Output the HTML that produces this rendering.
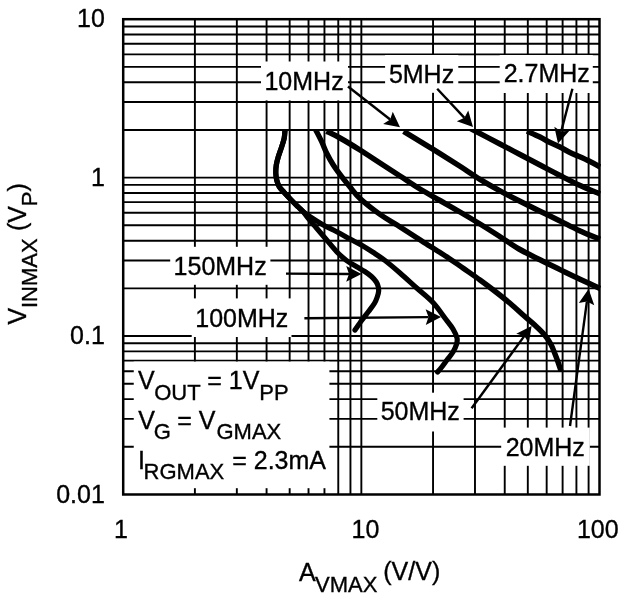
<!DOCTYPE html>
<html><head><meta charset="utf-8"><title>VINMAX vs AVMAX</title>
<style>html,body{margin:0;padding:0;background:#fff}svg{display:block}</style>
</head><body>
<svg width="619" height="600" viewBox="0 0 619 600">
<rect x="0" y="0" width="619" height="600" fill="#fff"/>
<path d="M194.89 19.20V494.49M236.83 19.20V494.49M266.58 19.20V494.49M289.66 19.20V494.49M308.52 19.20V494.49M324.46 19.20V494.49M338.27 19.20V494.49M350.45 19.20V494.49M361.35 19.20V494.49M433.04 19.20V494.49M474.98 19.20V494.49M504.73 19.20V494.49M527.81 19.20V494.49M546.67 19.20V494.49M562.61 19.20V494.49M576.42 19.20V494.49M588.60 19.20V494.49M123.20 446.80H599.50M123.20 418.90H599.50M123.20 399.11H599.50M123.20 383.75H599.50M123.20 371.21H599.50M123.20 360.60H599.50M123.20 351.41H599.50M123.20 343.31H599.50M123.20 336.06H599.50M123.20 288.37H599.50M123.20 260.47H599.50M123.20 240.68H599.50M123.20 225.32H599.50M123.20 212.78H599.50M123.20 202.17H599.50M123.20 192.98H599.50M123.20 184.88H599.50M123.20 177.63H599.50M123.20 129.94H599.50M123.20 102.04H599.50M123.20 82.25H599.50M123.20 66.89H599.50M123.20 54.35H599.50M123.20 43.74H599.50M123.20 34.55H599.50M123.20 26.45H599.50" stroke="#000" stroke-width="1.9" fill="none"/>
<rect x="261" y="61.5" width="87.00" height="38.90" fill="#fff"/>
<rect x="385.1" y="55.0" width="73.20" height="37.80" fill="#fff"/>
<rect x="499.7" y="55.0" width="93.10" height="38.00" fill="#fff"/>
<rect x="170.2" y="246.8" width="100.20" height="38.00" fill="#fff"/>
<rect x="191.7" y="298.4" width="99.80" height="38.60" fill="#fff"/>
<rect x="377.3" y="392.7" width="86.30" height="38.80" fill="#fff"/>
<rect x="501.2" y="427.6" width="88.60" height="38.20" fill="#fff"/>
<rect x="133.75" y="361.6" width="195.65" height="126.60" fill="#fff"/>
<rect x="123.20" y="19.20" width="476.30" height="475.29" fill="none" stroke="#000" stroke-width="2.5"/>
<clipPath id="cc"><rect x="123.20" y="129.09" width="477.90" height="400"/></clipPath>
<path d="M285.24 127.51C285.20 127.92 285.17 128.20 285.00 130.00C284.83 131.80 284.75 135.52 284.20 138.30C283.65 141.08 282.68 143.63 281.70 146.70C280.72 149.77 279.20 153.65 278.30 156.70C277.40 159.75 276.72 162.23 276.30 165.00C275.88 167.77 275.73 170.80 275.80 173.30C275.87 175.80 276.13 177.77 276.70 180.00C277.27 182.23 277.95 184.62 279.20 186.70C280.45 188.78 282.12 190.20 284.20 192.50C286.28 194.80 289.35 198.08 291.70 200.50C294.05 202.92 296.37 205.13 298.30 207.00C300.23 208.87 301.63 209.82 303.30 211.70C304.97 213.58 306.07 215.53 308.30 218.30C310.53 221.07 313.63 224.68 316.70 228.30C319.77 231.92 323.37 236.10 326.70 240.00C330.03 243.90 333.40 248.28 336.70 251.70C340.00 255.12 343.17 258.00 346.50 260.50C349.83 263.00 353.65 264.87 356.70 266.70C359.75 268.53 362.33 269.87 364.80 271.50C367.27 273.13 369.58 274.75 371.50 276.50C373.42 278.25 375.17 280.25 376.30 282.00C377.43 283.75 377.92 285.42 378.30 287.00C378.68 288.58 378.75 289.92 378.60 291.50C378.45 293.08 378.08 294.53 377.40 296.50C376.72 298.47 375.98 300.80 374.50 303.30C373.02 305.80 370.58 308.72 368.50 311.50C366.42 314.28 364.25 316.92 362.00 320.00C359.75 323.08 356.17 328.33 355.00 330.00" stroke="#000" stroke-width="5.2" fill="none" stroke-linecap="round" stroke-linejoin="round" clip-path="url(#cc)"/>
<path d="M285.24 127.51C285.20 127.92 285.17 128.20 285.00 130.00C284.83 131.80 284.75 135.52 284.20 138.30C283.65 141.08 282.68 143.63 281.70 146.70C280.72 149.77 279.20 153.65 278.30 156.70C277.40 159.75 276.72 162.23 276.30 165.00C275.88 167.77 275.73 170.80 275.80 173.30C275.87 175.80 276.13 177.77 276.70 180.00C277.27 182.23 277.95 184.62 279.20 186.70C280.45 188.78 282.12 190.20 284.20 192.50C286.28 194.80 289.35 198.08 291.70 200.50C294.05 202.92 296.37 205.13 298.30 207.00C300.23 208.87 301.35 210.08 303.30 211.70C305.25 213.32 306.67 214.48 310.00 216.70C313.33 218.92 318.85 222.50 323.30 225.00C327.75 227.50 332.25 229.37 336.70 231.70C341.15 234.03 345.90 236.78 350.00 239.00C354.10 241.22 357.47 242.78 361.30 245.00C365.13 247.22 369.05 249.72 373.00 252.30C376.95 254.88 380.50 257.05 385.00 260.50C389.50 263.95 394.67 268.37 400.00 273.00C405.33 277.63 411.50 283.38 417.00 288.30C422.50 293.22 428.17 297.30 433.00 302.50C437.83 307.70 442.67 315.08 446.00 319.50C449.33 323.92 451.17 325.92 453.00 329.00C454.83 332.08 456.40 335.50 457.00 338.00C457.60 340.50 457.27 341.67 456.60 344.00C455.93 346.33 454.60 349.33 453.00 352.00C451.40 354.67 449.00 357.33 447.00 360.00C445.00 362.67 442.57 366.00 441.00 368.00C439.43 370.00 438.17 371.33 437.60 372.00" stroke="#000" stroke-width="5.2" fill="none" stroke-linecap="round" stroke-linejoin="round" clip-path="url(#cc)"/>
<path d="M314.03 126.49C314.33 127.08 314.52 127.47 315.80 130.00C317.08 132.53 319.88 137.82 321.70 141.70C323.52 145.58 324.77 149.42 326.70 153.30C328.63 157.18 330.80 161.10 333.30 165.00C335.80 168.90 338.92 173.03 341.70 176.70C344.48 180.37 346.95 183.37 350.00 187.00C353.05 190.63 355.00 193.93 360.00 198.50C365.00 203.07 373.88 210.02 380.00 214.40C386.12 218.78 391.15 221.30 396.70 224.80C402.25 228.30 407.75 231.82 413.30 235.40C418.85 238.98 424.43 242.75 430.00 246.30C435.57 249.85 441.15 253.03 446.70 256.70C452.25 260.37 457.75 264.42 463.30 268.30C468.85 272.18 474.88 276.30 480.00 280.00C485.12 283.70 489.00 286.62 494.00 290.50C499.00 294.38 505.00 299.08 510.00 303.30C515.00 307.52 519.83 312.15 524.00 315.80C528.17 319.45 531.62 322.08 535.00 325.20C538.38 328.32 541.63 331.28 544.30 334.50C546.97 337.72 549.22 341.25 551.00 344.50C552.78 347.75 553.83 351.08 555.00 354.00C556.17 356.92 557.00 359.17 558.00 362.00C559.00 364.83 560.50 369.50 561.00 371.00" stroke="#000" stroke-width="5.4" fill="none" stroke-linecap="butt" stroke-linejoin="round" clip-path="url(#cc)"/>
<path d="M326.50 131.20C328.75 132.33 334.42 134.87 340.00 138.00C345.58 141.13 353.33 145.83 360.00 150.00C366.67 154.17 373.33 158.67 380.00 163.00C386.67 167.33 393.33 171.67 400.00 176.00C406.67 180.33 413.33 184.92 420.00 189.00C426.67 193.08 433.33 196.67 440.00 200.50C446.67 204.33 453.33 208.08 460.00 212.00C466.67 215.92 473.50 220.00 480.00 224.00C486.50 228.00 492.50 231.83 499.00 236.00C505.50 240.17 512.17 245.03 519.00 249.00C525.83 252.97 533.17 256.37 540.00 259.80C546.83 263.23 555.00 267.13 560.00 269.60C565.00 272.07 566.67 273.00 570.00 274.60C573.33 276.20 575.00 276.87 580.00 279.20C585.00 281.53 596.67 287.03 600.00 288.60" stroke="#000" stroke-width="5.5" fill="none" stroke-linecap="butt" stroke-linejoin="round" clip-path="url(#cc)"/>
<path d="M403.60 131.40C406.33 133.05 413.93 137.60 420.00 141.30C426.07 145.00 433.33 149.43 440.00 153.60C446.67 157.77 453.33 162.02 460.00 166.30C466.67 170.58 473.33 175.22 480.00 179.30C486.67 183.38 493.50 187.22 500.00 190.80C506.50 194.38 512.50 197.47 519.00 200.80C525.50 204.13 532.33 207.53 539.00 210.80C545.67 214.07 552.33 217.13 559.00 220.40C565.67 223.67 572.17 227.27 579.00 230.40C585.83 233.53 596.50 237.73 600.00 239.20" stroke="#000" stroke-width="5.5" fill="none" stroke-linecap="butt" stroke-linejoin="round" clip-path="url(#cc)"/>
<path d="M465.42 125.80C466.75 126.50 467.64 126.97 473.40 130.00C479.16 133.03 492.23 139.92 500.00 144.00C507.77 148.08 513.33 151.00 520.00 154.50C526.67 158.00 533.33 161.50 540.00 165.00C546.67 168.50 553.50 172.17 560.00 175.50C566.50 178.83 572.33 181.92 579.00 185.00C585.67 188.08 596.50 192.50 600.00 194.00" stroke="#000" stroke-width="5.5" fill="none" stroke-linecap="butt" stroke-linejoin="round" clip-path="url(#cc)"/>
<path d="M527.00 131.00C529.17 132.00 536.33 135.17 540.00 137.00C543.67 138.83 545.67 140.33 549.00 142.00C552.33 143.67 556.67 145.33 560.00 147.00C563.33 148.67 564.17 149.67 569.00 152.00C573.83 154.33 583.83 158.50 589.00 161.00C594.17 163.50 598.17 166.00 600.00 167.00" stroke="#000" stroke-width="5.5" fill="none" stroke-linecap="butt" stroke-linejoin="round" clip-path="url(#cc)"/>
<path d="M348.00 86.50L390.16 119.50" stroke="#000" stroke-width="2.4" fill="none"/><path d="M400.00 127.20L383.14 123.91L390.16 119.50L392.76 111.63Z" fill="#000"/>
<path d="M437.20 88.70L464.46 117.87" stroke="#000" stroke-width="2.4" fill="none"/><path d="M473.00 127.00L456.85 121.15L464.46 117.87L468.25 110.50Z" fill="#000"/>
<path d="M572.40 88.80L561.18 131.51" stroke="#000" stroke-width="2.4" fill="none"/><path d="M558.00 143.60L554.34 126.82L561.18 131.51L569.43 130.78Z" fill="#000"/>
<path d="M286.00 273.60L349.00 273.93" stroke="#000" stroke-width="2.4" fill="none"/><path d="M361.50 274.00L346.16 281.72L349.00 273.93L346.24 266.12Z" fill="#000"/>
<path d="M304.40 318.20L428.50 317.11" stroke="#000" stroke-width="2.4" fill="none"/><path d="M441.00 317.00L425.77 324.93L428.50 317.11L425.63 309.33Z" fill="#000"/>
<path d="M471.60 408.30L524.24 336.10" stroke="#000" stroke-width="2.4" fill="none"/><path d="M531.60 326.00L528.89 342.96L524.24 336.10L516.28 333.77Z" fill="#000"/>
<path d="M570.00 426.00L586.92 301.39" stroke="#000" stroke-width="2.4" fill="none"/><path d="M588.60 289.00L594.27 305.21L586.92 301.39L578.81 303.11Z" fill="#000"/>
<text x="264.47" y="89.5" font-family="Liberation Sans, Arial, Helvetica, sans-serif" font-size="25" text-anchor="start" fill="#000" stroke="#000" stroke-width="0.35" >10MHz</text>
<text x="388.9" y="82.9" font-family="Liberation Sans, Arial, Helvetica, sans-serif" font-size="25" text-anchor="start" fill="#000" stroke="#000" stroke-width="0.35" >5MHz</text>
<text x="503.7" y="82.0" font-family="Liberation Sans, Arial, Helvetica, sans-serif" font-size="25" text-anchor="start" fill="#000" stroke="#000" stroke-width="0.35" >2.7MHz</text>
<text x="173.58" y="275.1" font-family="Liberation Sans, Arial, Helvetica, sans-serif" font-size="25" text-anchor="start" fill="#000" stroke="#000" stroke-width="0.35" >150MHz</text>
<text x="195.28" y="327.1" font-family="Liberation Sans, Arial, Helvetica, sans-serif" font-size="25" text-anchor="start" fill="#000" stroke="#000" stroke-width="0.35" >100MHz</text>
<text x="380.7" y="420.4" font-family="Liberation Sans, Arial, Helvetica, sans-serif" font-size="25" text-anchor="start" fill="#000" stroke="#000" stroke-width="0.35" >50MHz</text>
<text x="505.7" y="455.7" font-family="Liberation Sans, Arial, Helvetica, sans-serif" font-size="25" text-anchor="start" fill="#000" stroke="#000" stroke-width="0.35" >20MHz</text>
<text x="104.8" y="27.1" font-family="Liberation Sans, Arial, Helvetica, sans-serif" font-size="25" text-anchor="end" fill="#000" stroke="#000" stroke-width="0.35" >10</text>
<text x="104.8" y="185.75" font-family="Liberation Sans, Arial, Helvetica, sans-serif" font-size="25" text-anchor="end" fill="#000" stroke="#000" stroke-width="0.35" >1</text>
<text x="104.8" y="344.3" font-family="Liberation Sans, Arial, Helvetica, sans-serif" font-size="25" text-anchor="end" fill="#000" stroke="#000" stroke-width="0.35" >0.1</text>
<text x="104.8" y="503.1" font-family="Liberation Sans, Arial, Helvetica, sans-serif" font-size="25" text-anchor="end" fill="#000" stroke="#000" stroke-width="0.35" >0.01</text>
<text x="114.075" y="538" font-family="Liberation Sans, Arial, Helvetica, sans-serif" font-size="25" text-anchor="start" fill="#000" stroke="#000" stroke-width="0.35" >1</text>
<text x="351.575" y="538.2" font-family="Liberation Sans, Arial, Helvetica, sans-serif" font-size="25" text-anchor="start" fill="#000" stroke="#000" stroke-width="0.35" >10</text>
<text x="576.975" y="538" font-family="Liberation Sans, Arial, Helvetica, sans-serif" font-size="25" text-anchor="start" fill="#000" stroke="#000" stroke-width="0.35" >100</text>
<text x="138.1" y="389.3" font-family="Liberation Sans, Arial, Helvetica, sans-serif" font-size="25" text-anchor="start" fill="#000" stroke="#000" stroke-width="0.35" >V</text>
<text x="154.2" y="400.2" font-family="Liberation Sans, Arial, Helvetica, sans-serif" font-size="22" text-anchor="start" fill="#000" stroke="#000" stroke-width="0.35" >OUT</text>
<text x="207.3" y="389.3" font-family="Liberation Sans, Arial, Helvetica, sans-serif" font-size="25" text-anchor="start" fill="#000" stroke="#000" stroke-width="0.35" >= 1V</text>
<text x="259.3" y="400.2" font-family="Liberation Sans, Arial, Helvetica, sans-serif" font-size="22" text-anchor="start" fill="#000" stroke="#000" stroke-width="0.35" >PP</text>
<text x="138.3" y="428.8" font-family="Liberation Sans, Arial, Helvetica, sans-serif" font-size="25" text-anchor="start" fill="#000" stroke="#000" stroke-width="0.35" >V</text>
<text x="153.8" y="438.5" font-family="Liberation Sans, Arial, Helvetica, sans-serif" font-size="22" text-anchor="start" fill="#000" stroke="#000" stroke-width="0.35" >G</text>
<text x="177.2" y="428.8" font-family="Liberation Sans, Arial, Helvetica, sans-serif" font-size="25" text-anchor="start" fill="#000" stroke="#000" stroke-width="0.35" >= V</text>
<text x="216.5" y="438.5" font-family="Liberation Sans, Arial, Helvetica, sans-serif" font-size="22" text-anchor="start" fill="#000" stroke="#000" stroke-width="0.35" >GMAX</text>
<text x="138.0" y="468.9" font-family="Liberation Sans, Arial, Helvetica, sans-serif" font-size="25" text-anchor="start" fill="#000" stroke="#000" stroke-width="0.35" >I</text>
<text x="143.6" y="478.7" font-family="Liberation Sans, Arial, Helvetica, sans-serif" font-size="22" text-anchor="start" fill="#000" stroke="#000" stroke-width="0.35" >RGMAX</text>
<text x="232.2" y="468.9" font-family="Liberation Sans, Arial, Helvetica, sans-serif" font-size="25" text-anchor="start" fill="#000" stroke="#000" stroke-width="0.35" >= 2.3mA</text>
<text x="299" y="581.1" font-family="Liberation Sans, Arial, Helvetica, sans-serif" font-size="25" text-anchor="start" fill="#000" stroke="#000" stroke-width="0.35" >A</text>
<text x="315" y="592" font-family="Liberation Sans, Arial, Helvetica, sans-serif" font-size="22" text-anchor="start" fill="#000" stroke="#000" stroke-width="0.35" >VMAX</text>
<text x="383.3" y="580" font-family="Liberation Sans, Arial, Helvetica, sans-serif" font-size="25" text-anchor="start" fill="#000" stroke="#000" stroke-width="0.35" >(V/V)</text>
<g transform="translate(26,324.6) rotate(-90)"><text x="0" y="0" font-family="Liberation Sans, Arial, Helvetica, sans-serif" font-size="25" text-anchor="start" fill="#000" stroke="#000" stroke-width="0.35" >V</text><text x="16.5" y="10.8" font-family="Liberation Sans, Arial, Helvetica, sans-serif" font-size="22" text-anchor="start" fill="#000" stroke="#000" stroke-width="0.35" >INMAX</text><text x="93.5" y="0" font-family="Liberation Sans, Arial, Helvetica, sans-serif" font-size="25" text-anchor="start" fill="#000" stroke="#000" stroke-width="0.35" >(V</text><text x="118.3" y="10.8" font-family="Liberation Sans, Arial, Helvetica, sans-serif" font-size="22" text-anchor="start" fill="#000" stroke="#000" stroke-width="0.35" >P</text><text x="133.2" y="0" font-family="Liberation Sans, Arial, Helvetica, sans-serif" font-size="25" text-anchor="start" fill="#000" stroke="#000" stroke-width="0.35" >)</text></g>
</svg>
</body></html>
